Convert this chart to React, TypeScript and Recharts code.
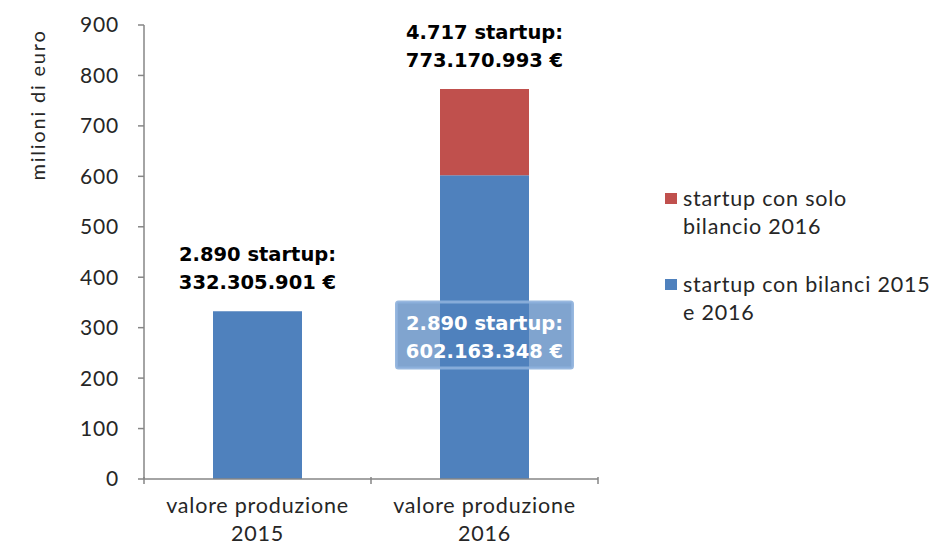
import { Bar, BarChart, LabelList, Legend, XAxis, YAxis } from "recharts";

const categories = ["valore produzione 2015", "valore produzione 2016"];
// euro values per series
const bothYearsEuro = [332305901, 602163348];
const only2016Euro = [0, 171007645];
// number of startups per series
const bothYearsCount = [2890, 2890];
const only2016Count = [0, 1827];
const yTicks = [0, 100, 200, 300, 400, 500, 600, 700, 800, 900];

const SERIES = [
  { key: "only2016", name: "startup con solo bilancio 2016", lines: ["startup con solo", "bilancio 2016"], color: "#C0504D" },
  { key: "both", name: "startup con bilanci 2015 e 2016", lines: ["startup con bilanci 2015", "e 2016"], color: "#4F81BD" },
];

const data = categories.map((c, i) => ({
  name: c,
  both: bothYearsEuro[i] / 1e6,
  only2016: only2016Euro[i] / 1e6,
}));

const FONT = "Lato, 'Open Sans', sans-serif";
const BOLD = "'DejaVu Sans', sans-serif";
const AXIS = "#868686";
const INK = "#262626";

const fmt = (n: number) => String(n).replace(/\B(?=(\d{3})+(?!\d))/g, ".");
const near = (a: any, b: number) => {
  const v = Array.isArray(a) ? a[a.length - 1] : Number(a);
  return Math.abs(v - b) < 1e-6;
};

function XTick({ x, y, payload, index }: any) {
  const half = payload?.offset ?? 113.5;
  const text: string = payload.value;
  const cut = text.lastIndexOf(" ");
  const lines = [text.slice(0, cut), text.slice(cut + 1)];
  const last = index === categories.length - 1;
  return (
    <g>
      <line x1={x - half} x2={x - half} y1={y - 10} y2={y - 3} stroke={AXIS} strokeWidth={1.5} />
      {last && <line x1={x + half} x2={x + half} y1={y - 10} y2={y - 3} stroke={AXIS} strokeWidth={1.5} />}
      {lines.map((l, i) => (
        <text key={i} x={x} y={y + 26 + i * 28} textAnchor="middle" fontSize={21.5} letterSpacing={0.8} fill={INK} fontFamily={FONT}>
          {l}
        </text>
      ))}
    </g>
  );
}

// label on top of a bar (two lines, black bold), shown for one category only
function TopLabel(count: number, euro: number, stackTop: number, raw: number) {
  return (props: any) => {
    const { x, y, width, value } = props;
    if (!(near(value, stackTop) || near(value, raw))) return null;
    const cx = x + width / 2;
    return (
      <g fontFamily={BOLD} fontWeight={700} fontSize={19.5} fill="#000" textAnchor="middle">
        <text x={cx} y={y - 50}>{fmt(count)} startup:</text>
        <text x={cx} y={y - 22}>{fmt(euro)} €</text>
      </g>
    );
  };
}

function BoxLabel(props: any) {
  const { x, y, width, height, value } = props;
  if (!near(value, data[1].both)) return null;
  const cx = x + width / 2;
  const cy = y + height / 2 + 8;
  return (
    <g fontFamily={BOLD} fontWeight={700} fontSize={19.5} fill="#fff" textAnchor="middle">
      <rect x={cx - 88} y={cy - 33} width={176} height={66} fill="rgba(79,129,189,0.72)" stroke="rgba(141,176,220,0.9)" strokeWidth={3} rx={2} />
      <text x={cx} y={cy - 5}>{fmt(bothYearsCount[1])} startup:</text>
      <text x={cx} y={cy + 23}>{fmt(bothYearsEuro[1])} €</text>
    </g>
  );
}

function LegendBox() {
  return (
    <div style={{ fontFamily: FONT, fontSize: 21.5, color: INK, letterSpacing: 0.8, lineHeight: "28px", textAlign: "left" }}>
      {SERIES.map((s, i) => (
        <div key={s.key} style={{ display: "flex", alignItems: "flex-start", marginBottom: i === 0 ? 30 : 0 }}>
          <span style={{ display: "inline-block", flex: "none", width: 12, height: 11, background: s.color, marginTop: 9, marginRight: 6 }} />
          <div>
            {s.lines.map((l) => (
              <div key={l}>{l}</div>
            ))}
          </div>
        </div>
      ))}
    </div>
  );
}

export default function App() {
  return (
    <div style={{ position: "absolute", left: 0, top: 0, width: 942, height: 545, background: "#fff" }}>
      <BarChart width={942} height={545} data={data} margin={{ top: 25, right: 344, bottom: 6, left: 0 }}>
        <XAxis
          dataKey="name"
          height={60}
          tick={<XTick />}
          tickLine={false}
          axisLine={{ stroke: AXIS, strokeWidth: 1.5 }}
          interval={0}
        />
        <YAxis
          width={144}
          domain={[0, 900]}
          ticks={yTicks}
          tickSize={6}
          tickMargin={19}
          tick={{ fontSize: 21, fill: INK, fontFamily: FONT, letterSpacing: 0.8 }}
          axisLine={{ stroke: AXIS, strokeWidth: 1.5 }}
          tickLine={{ stroke: AXIS, strokeWidth: 1.5 }}
          label={{
            content: (p: any) => (
              <text
                x={37}
                y={(p.viewBox?.y ?? 25) + 80}
                transform={`rotate(-90 37 ${(p.viewBox?.y ?? 25) + 80})`}
                textAnchor="middle"
                dominantBaseline="central"
                fontSize={20}
                letterSpacing={1.8}
                fill={INK}
                fontFamily={FONT}
              >
                milioni di euro
              </text>
            ),
          }}
        />
        <Legend
          layout="horizontal"
          verticalAlign="middle"
          align="center"
          content={<LegendBox />}
          wrapperStyle={{ position: "absolute", left: 665, top: 184, width: 280 }}
        />
        <Bar dataKey="both" name={SERIES[1].name} stackId="a" fill={SERIES[1].color} barSize={89} isAnimationActive={false}>
          <LabelList content={TopLabel(bothYearsCount[0], bothYearsEuro[0], data[0].both + data[0].only2016, data[0].both)} />
          <LabelList content={BoxLabel} />
        </Bar>
        <Bar dataKey="only2016" name={SERIES[0].name} stackId="a" fill={SERIES[0].color} barSize={89} isAnimationActive={false}>
          <LabelList
            content={TopLabel(
              bothYearsCount[1] + only2016Count[1],
              bothYearsEuro[1] + only2016Euro[1],
              data[1].both + data[1].only2016,
              data[1].only2016
            )}
          />
        </Bar>
      </BarChart>
    </div>
  );
}
